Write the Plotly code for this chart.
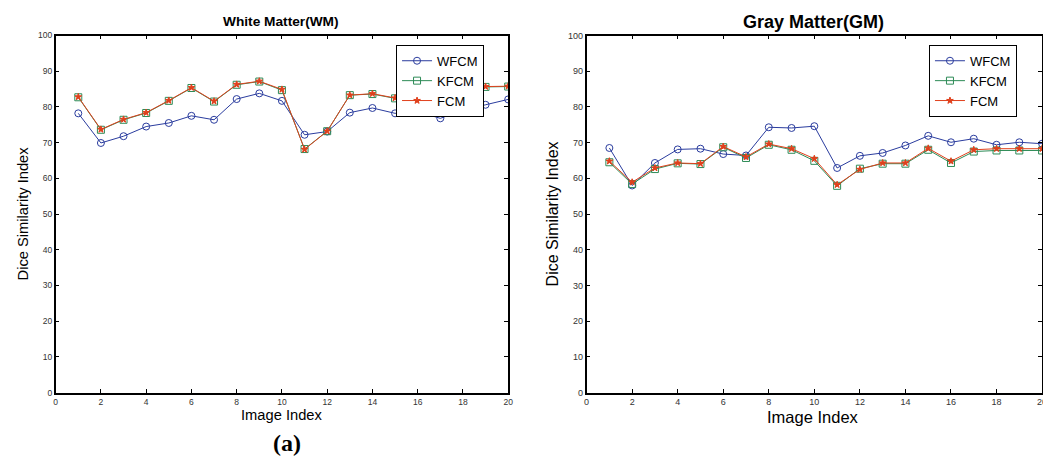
import plotly.graph_objects as go

image_index = list(range(1, 21))

wm_wfcm = [78.2, 69.9, 71.8, 74.5, 75.5, 77.5, 76.4, 82.2, 83.8, 81.7,
           72.2, 73.1, 78.4, 79.7, 78.2, 78.7, 76.8, 79.0, 80.6, 82.1]
wm_kfcm = [82.7, 73.6, 76.4, 78.3, 81.7, 85.3, 81.5, 86.2, 87.1, 84.7,
           68.2, 73.2, 83.3, 83.6, 82.4, 82.8, 80.9, 83.5, 85.6, 85.7]
wm_fcm = [82.8, 73.7, 76.5, 78.4, 81.8, 85.4, 81.6, 86.3, 87.2, 84.9,
          68.1, 73.2, 83.3, 83.7, 82.5, 82.9, 81.2, 83.6, 85.7, 85.8]

gm_wfcm = [68.5, 58.0, 64.3, 68.1, 68.3, 66.8, 66.4, 74.3, 74.1, 74.6,
           62.9, 66.3, 67.1, 69.2, 71.9, 70.1, 71.1, 69.4, 70.1, 69.7]
gm_kfcm = [64.5, 58.4, 62.6, 64.2, 64.0, 68.7, 65.7, 69.4, 68.0, 64.9,
           57.9, 62.7, 64.1, 64.1, 68.0, 64.3, 67.5, 67.8, 67.8, 67.8]
gm_fcm = [64.8, 58.9, 62.9, 64.3, 64.1, 68.9, 66.0, 69.6, 68.3, 65.5,
          58.2, 62.5, 64.3, 64.3, 68.4, 64.8, 68.0, 68.3, 68.3, 68.3]

series_names = ["WFCM", "KFCM", "FCM"]
colors = ["#2a3c9e", "#2e8b57", "#e0401c"]
symbols = ["circle-open", "square-open", "star"]
sizes = [7, 7, 5]

W, H = 1051, 461
OFF = 8  # default page body margin
def px(x):
    return (x - OFF) / W
def py(y):
    return 1 - (y - OFF) / H

fig = go.Figure()

panels = [
    ("x", "y", "legend", [wm_wfcm, wm_kfcm, wm_fcm]),
    ("x2", "y2", "legend2", [gm_wfcm, gm_kfcm, gm_fcm]),
]
for xa, ya, lg, data in panels:
    for name, vals, c, s, sz in zip(series_names, data, colors, symbols, sizes):
        fig.add_trace(go.Scatter(
            x=image_index, y=vals, name=name, mode="lines+markers",
            xaxis=xa, yaxis=ya, legend=lg,
            line=dict(color=c, width=1),
            marker=dict(symbol=s, size=sz, color=c, line=dict(color=c, width=1)),
        ))

def axis_style(fs):
    return dict(
        showgrid=False, zeroline=False, showline=True, linecolor="black",
        linewidth=1.5, mirror="ticks", ticks="inside", ticklen=4, tickcolor="black",
        tickfont=dict(family="Liberation Sans, Arial", size=fs, color="#333"),
    )

ytop, ybot = 31, 396
fig.update_layout(
    width=W, height=H,
    margin=dict(l=0, r=0, t=0, b=0),
    paper_bgcolor="white", plot_bgcolor="white",
    font=dict(family="Liberation Sans, Arial", color="black"),
    xaxis=dict(domain=[px(53), px(509)], range=[0, 20], tickvals=list(range(0, 21, 2)),
               anchor="y", **axis_style(8.5)),
    yaxis=dict(domain=[py(ybot), py(ytop)], range=[0, 100], tickvals=list(range(0, 101, 10)),
               anchor="x", **axis_style(8.5)),
    xaxis2=dict(domain=[px(588), px(1047)], range=[0, 20], tickvals=list(range(0, 21, 2)),
                anchor="y2", **axis_style(9)),
    yaxis2=dict(domain=[py(ybot), py(ytop)], range=[0, 100], tickvals=list(range(0, 101, 10)),
                anchor="x2", **axis_style(9)),
    legend=dict(x=px(396), y=py(40.5), xanchor="left", yanchor="top",
                bordercolor="black", borderwidth=1, bgcolor="white",
                font=dict(size=13, family="Liberation Sans, Arial"),
                tracegroupgap=0, itemwidth=30),
    legend2=dict(x=px(933), y=py(40.5), xanchor="left", yanchor="top",
                 bordercolor="black", borderwidth=1, bgcolor="white",
                 font=dict(size=13, family="Liberation Sans, Arial"),
                 tracegroupgap=0, itemwidth=30),
    showlegend=True,
)

ann = [
    dict(text="<b>White Matter(WM)</b>", x=px(280.5), y=py(17), size=13.7, family="Liberation Sans, Arial", angle=0),
    dict(text="<b>Gray Matter(GM)</b>", x=px(816.7), y=py(17), size=18, family="Liberation Sans, Arial", angle=0),
    dict(text="Dice Similarity Index", x=px(20), y=py(213), size=14.7, family="Liberation Sans, Arial", angle=-90),
    dict(text="Dice Similarity Index", x=px(554), y=py(213), size=16, family="Liberation Sans, Arial", angle=-90),
    dict(text="Image Index", x=px(281), y=py(419), size=14.7, family="Liberation Sans, Arial", angle=0),
    dict(text="Image Index", x=px(816.5), y=py(421), size=16.5, family="Liberation Sans, Arial", angle=0),
    dict(text="<b>(a)</b>", x=px(286.5), y=py(448), size=24, family="Liberation Serif, Times New Roman", angle=0),
]
for a in ann:
    fig.add_annotation(text=a["text"], x=a["x"], y=a["y"], xref="paper", yref="paper",
                       showarrow=False, textangle=a["angle"], xanchor="center", yanchor="middle",
                       font=dict(size=a["size"], family=a["family"], color="black"))

fig.write_html("out.html")
